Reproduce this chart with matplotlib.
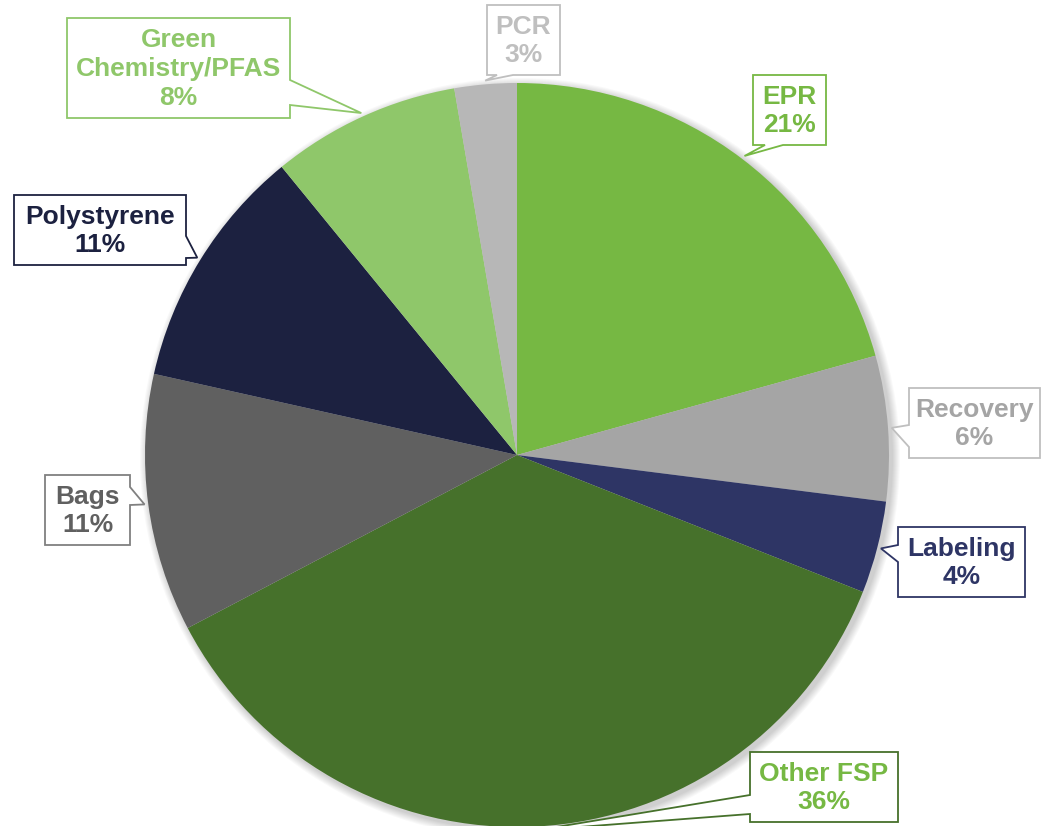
import matplotlib.pyplot as plt
import numpy as np
from matplotlib.patches import Polygon, Circle

plt.rcParams['font.family'] = ['Liberation Sans', 'DejaVu Sans']

# data
labels = ["EPR", "Recovery", "Labeling", "Other FSP", "Bags",
          "Polystyrene", "Green\nChemistry/PFAS", "PCR"]
shares = [20.7, 6.3, 4.0, 36.3, 11.2, 10.6, 8.2, 2.7]
slice_colors = ["#76B843", "#A5A5A5", "#2E3565", "#46712B", "#606060",
                "#1C2140", "#8FC76A", "#B7B7B7"]
text_colors = ["#76B843", "#A5A5A5", "#2E3565", "#76B843", "#606060",
               "#1C2140", "#8FC76A", "#BFBFBF"]
edge_colors = ["#76B843", "#BFBFBF", "#2E3565", "#46712B", "#808080",
               "#1C2140", "#8FC76A", "#BFBFBF"]

W, H = 1055, 826
CX, CY, R = 517, 455, 372

# callout boxes in pixel coords: (x0, y0, x1, y1), side, pointer base (a, b)
boxes = [
    ((753, 75, 826, 145), "bottom", (765, 783)),
    ((909, 388, 1040, 458), "left", (425, 447)),
    ((898, 527, 1025, 597), "left", (545, 562)),
    ((750, 752, 898, 822), "left", (795, 814)),
    ((45, 475, 130, 545), "right", (487, 505)),
    ((14, 195, 186, 265), "right", (236, 258)),
    ((67, 18, 290, 118), "right", (80, 105)),
    ((487, 5, 560, 75), "bottom", (497, 513)),
]


def fy(y):
    return H - y


def callout_poly(box, side, base, tip):
    x0, y0, x1, y1 = box
    a, b = base
    tx, ty = tip
    if side == "right":
        pts = [(x0, y0), (x1, y0), (x1, a), (tx, ty), (x1, b), (x1, y1), (x0, y1)]
    elif side == "left":
        pts = [(x0, y0), (x1, y0), (x1, y1), (x0, y1), (x0, b), (tx, ty), (x0, a)]
    else:  # bottom
        pts = [(x0, y0), (x1, y0), (x1, y1), (b, y1), (tx, ty), (a, y1), (x0, y1)]
    return [(x, fy(y)) for x, y in pts]


fig = plt.figure(figsize=(W / 100, H / 100), dpi=100)
ax = fig.add_axes([0, 0, 1, 1])

# soft shadow
for i in range(8):
    ax.add_patch(Circle((CX + 3, fy(CY) - 3), R + 8 - i, color="black",
                        alpha=0.025, lw=0, zorder=0))

wedges, _ = ax.pie(shares, colors=slice_colors, startangle=90, counterclock=False,
                   center=(CX, fy(CY)), radius=R,
                   wedgeprops=dict(linewidth=0), normalize=True)
for w in wedges:
    w.set_zorder(1)

for w, lab, share, tc, ec, (box, side, base) in zip(
        wedges, labels, shares, text_colors, edge_colors, boxes):
    mid = np.deg2rad((w.theta1 + w.theta2) / 2)
    tip = (CX + R * 1.01 * np.cos(mid), CY - R * 1.01 * np.sin(mid))
    poly = Polygon(callout_poly(box, side, base, tip), closed=True,
                   facecolor="white", edgecolor=ec, lw=1.3, zorder=3)
    ax.add_patch(poly)
    x0, y0, x1, y1 = box
    ax.text((x0 + x1) / 2, fy((y0 + y1) / 2) - 1, f"{lab}\n{round(share)}%", color=tc,
            ha="center", va="center", fontsize=19, fontweight="bold",
            linespacing=1.25, zorder=4)

ax.set_xlim(0, W)
ax.set_ylim(0, H)
ax.set_aspect("equal")
ax.axis("off")
fig.savefig("out.png", dpi=100)
